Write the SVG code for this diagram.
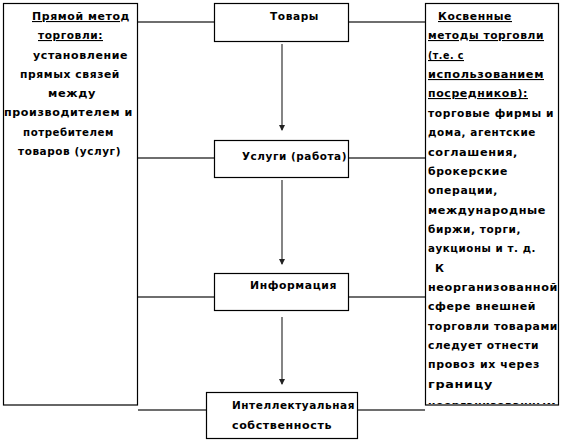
<svg xmlns="http://www.w3.org/2000/svg" width="563" height="442" viewBox="0 0 563 442">
<defs>
<style>
.box{fill:#fff;stroke:#000;stroke-width:1.2}
.link{stroke:#6e6e6e;stroke-width:2;fill:none}
.arr{stroke:#333;stroke-width:1.2;fill:none}
text{font-family:"DejaVu Sans","Liberation Sans",sans-serif;font-size:11px;font-weight:bold;fill:#000;letter-spacing:0.6px}
.u{text-decoration:underline}
</style>
<marker id="ah" markerWidth="6" markerHeight="6" refX="5" refY="3" orient="auto" markerUnits="userSpaceOnUse">
<path d="M0,0 L6,3 L0,6 Z" fill="#222"/>
</marker>
<clipPath id="rc"><rect x="426" y="3" width="132" height="401"/></clipPath>
</defs>
<rect width="563" height="442" fill="#fff"/>
<g id="connectors">
<line class="link" x1="138" y1="22" x2="214" y2="22"/>
<line class="link" x1="349" y1="22" x2="425" y2="22"/>
<line class="link" x1="138" y1="158" x2="214" y2="158"/>
<line class="link" x1="349" y1="158" x2="425" y2="158"/>
<line class="link" x1="138" y1="297" x2="214" y2="297"/>
<line class="link" x1="349" y1="297" x2="425" y2="297"/>
<line class="link" x1="138" y1="410" x2="206" y2="410"/>
<line class="link" x1="358" y1="410" x2="425" y2="410"/>
<line class="arr" x1="282" y1="44" x2="282" y2="130" marker-end="url(#ah)"/>
<line class="arr" x1="282" y1="180" x2="282" y2="264" marker-end="url(#ah)"/>
<line class="arr" x1="282" y1="317" x2="282" y2="384" marker-end="url(#ah)"/>
</g>
<g id="direct">
<rect class="box" x="3.5" y="3.5" width="134" height="401.5"/>
<text class="u" x="32" y="20" textLength="98" lengthAdjust="spacingAndGlyphs">Прямой метод</text>
<text class="u" x="38" y="39" textLength="65" lengthAdjust="spacingAndGlyphs">торговли:</text>
<text x="33" y="59" textLength="95" lengthAdjust="spacingAndGlyphs">установление</text>
<text x="20" y="78" textLength="100" lengthAdjust="spacingAndGlyphs">прямых связей</text>
<text x="48" y="97" textLength="48" lengthAdjust="spacingAndGlyphs">между</text>
<text x="4" y="116" textLength="129" lengthAdjust="spacingAndGlyphs">производителем и</text>
<text x="23" y="136" textLength="91" lengthAdjust="spacingAndGlyphs">потребителем</text>
<text x="18" y="155" textLength="103" lengthAdjust="spacingAndGlyphs">товаров (услуг)</text>
</g>
<g id="goods">
<rect class="box" x="214.5" y="3.5" width="134" height="38"/>
<text x="270" y="20" textLength="49" lengthAdjust="spacingAndGlyphs">Товары</text>
</g>
<g id="services">
<rect class="box" x="214.5" y="140.5" width="134" height="37"/>
<text x="242" y="160" textLength="105" lengthAdjust="spacingAndGlyphs">Услуги (работа)</text>
</g>
<g id="info">
<rect class="box" x="214.5" y="273.5" width="134" height="37"/>
<text x="250" y="289" textLength="87" lengthAdjust="spacingAndGlyphs">Информация</text>
</g>
<g id="ip">
<rect class="box" x="206.5" y="392.5" width="151" height="46"/>
<text x="232" y="409" textLength="123" lengthAdjust="spacingAndGlyphs">Интеллектуальная</text>
<text x="232" y="429" textLength="100" lengthAdjust="spacingAndGlyphs">собственность</text>
</g>
<g id="indirect">
<rect class="box" x="425.5" y="3.5" width="133" height="401.5"/>
<g clip-path="url(#rc)">
<text class="u" x="438" y="20" textLength="74" lengthAdjust="spacingAndGlyphs">Косвенные</text>
<text class="u" x="428" y="39" textLength="116" lengthAdjust="spacingAndGlyphs">методы торговли</text>
<text class="u" x="428" y="59" textLength="36" lengthAdjust="spacingAndGlyphs">(т.е. с</text>
<text class="u" x="428" y="78" textLength="116" lengthAdjust="spacingAndGlyphs">использованием</text>
<text class="u" x="428" y="97" textLength="100" lengthAdjust="spacingAndGlyphs">посредников):</text>
<text x="428" y="117" textLength="126" lengthAdjust="spacingAndGlyphs">торговые фирмы и</text>
<text x="428" y="136" textLength="108" lengthAdjust="spacingAndGlyphs">дома, агентские</text>
<text x="428" y="156" textLength="90" lengthAdjust="spacingAndGlyphs">соглашения,</text>
<text x="428" y="175" textLength="80" lengthAdjust="spacingAndGlyphs">брокерские</text>
<text x="428" y="194" textLength="70" lengthAdjust="spacingAndGlyphs">операции,</text>
<text x="428" y="214" textLength="118" lengthAdjust="spacingAndGlyphs">международные</text>
<text x="428" y="233" textLength="93" lengthAdjust="spacingAndGlyphs">биржи, торги,</text>
<text x="428" y="252" textLength="108" lengthAdjust="spacingAndGlyphs">аукционы и т. д.</text>
<text x="435" y="272">К</text>
<text x="428" y="291" textLength="130" lengthAdjust="spacingAndGlyphs">неорганизованной</text>
<text x="428" y="310" textLength="108" lengthAdjust="spacingAndGlyphs">сфере внешней</text>
<text x="428" y="330" textLength="130" lengthAdjust="spacingAndGlyphs">торговли товарами</text>
<text x="428" y="349" textLength="111" lengthAdjust="spacingAndGlyphs">следует отнести</text>
<text x="428" y="368" textLength="112" lengthAdjust="spacingAndGlyphs">провоз их через</text>
<text x="428" y="388" textLength="65" lengthAdjust="spacingAndGlyphs">границу</text>
<text x="428" y="409" textLength="128" lengthAdjust="spacingAndGlyphs">неорганизованным</text>
</g>
</g>
</svg>
